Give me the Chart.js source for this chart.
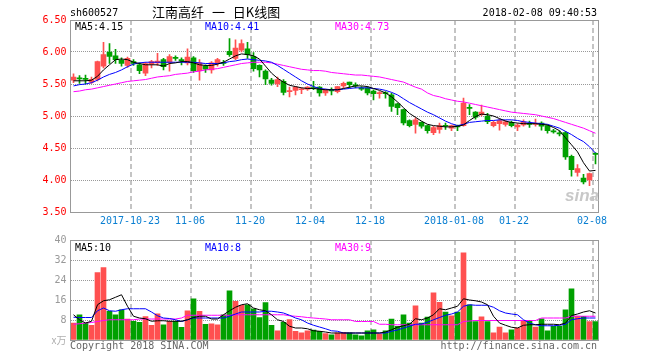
<!DOCTYPE html>
<html>
<head>
<meta charset="utf-8">
<script src="https://cdn.jsdelivr.net/npm/chart.js@4.4.0/dist/chart.umd.min.js"></script>
<style>
  body { margin: 0; background: #fff; }
  #wrap { position: relative; width: 660px; height: 360px; overflow: hidden; }
  #kChart { position: absolute; left: 0; top: 0; }
  #volChart { position: absolute; left: 0; top: 225px; }
  .t { position: absolute; white-space: nowrap; font: 10px "DejaVu Sans Mono", monospace; line-height: 12px; }
  #title { font: 13px "Noto Sans CJK SC", sans-serif; line-height: 14px; word-spacing: 5px; }
  #logo { font: italic bold 17px "Liberation Sans", sans-serif; color: #c8c8c8; }
</style>
</head>
<body>
<div id="wrap">
  <canvas id="kChart" width="660" height="230"></canvas>
  <canvas id="volChart" width="660" height="135"></canvas>
  <span class="t" style="left:70px;top:7px;color:#000">sh600527</span>
  <span class="t" id="title" style="left:152px;top:5px;color:#000">江南高纤 一 日K线图</span>
  <span class="t" style="right:63px;top:7px;color:#000">2018-02-08 09:40:53</span>
  <span class="t" style="left:75px;top:21px;color:#000">MA5:4.15</span>
  <span class="t" style="left:205px;top:21px;color:#0000ff">MA10:4.41</span>
  <span class="t" style="left:335px;top:21px;color:#ff00ff">MA30:4.73</span>
  <span class="t" id="logo" style="left:565px;top:186px">sina</span>
  <span class="t" style="left:75px;top:242px;color:#000">MA5:10</span>
  <span class="t" style="left:205px;top:242px;color:#0000ff">MA10:8</span>
  <span class="t" style="left:335px;top:242px;color:#ff00ff">MA30:9</span>
  <span class="t" style="left:70px;top:340px;color:#666">Copyright 2018 SINA.COM</span>
  <span class="t" style="right:63px;top:340px;color:#666">http://finance.sina.com.cn</span>
</div>
<script>
const dates = [
  '2017-10-09','2017-10-10','2017-10-11','2017-10-12','2017-10-13','2017-10-16','2017-10-17','2017-10-18','2017-10-19','2017-10-20',
  '2017-10-23','2017-10-24','2017-10-25','2017-10-26','2017-10-27','2017-10-30','2017-10-31','2017-11-01','2017-11-02','2017-11-03',
  '2017-11-06','2017-11-07','2017-11-08','2017-11-09','2017-11-10','2017-11-13','2017-11-14','2017-11-15','2017-11-16','2017-11-17',
  '2017-11-20','2017-11-21','2017-11-22','2017-11-23','2017-11-24','2017-11-27','2017-11-28','2017-11-29','2017-11-30','2017-12-01',
  '2017-12-04','2017-12-05','2017-12-06','2017-12-07','2017-12-08','2017-12-11','2017-12-12','2017-12-13','2017-12-14','2017-12-15',
  '2017-12-18','2017-12-19','2017-12-20','2017-12-21','2017-12-22','2017-12-25','2017-12-26','2017-12-27','2017-12-28','2017-12-29',
  '2018-01-02','2018-01-03','2018-01-04','2018-01-05','2018-01-08','2018-01-09','2018-01-10','2018-01-11','2018-01-12','2018-01-15',
  '2018-01-16','2018-01-17','2018-01-18','2018-01-19','2018-01-22','2018-01-23','2018-01-24','2018-01-25','2018-01-26','2018-01-29',
  '2018-01-30','2018-01-31','2018-02-01','2018-02-02','2018-02-05','2018-02-06','2018-02-07','2018-02-08'
];

const tickLabels = {
  '2017-10-23': '2017-10-23', '2017-11-06': '11-06', '2017-11-20': '11-20', '2017-12-04': '12-04',
  '2017-12-18': '12-18', '2018-01-08': '2018-01-08', '2018-01-22': '01-22', '2018-02-08': '02-08'
};

const open = [
  5.56,5.59,5.59,5.53,5.57,5.78,6.00,5.94,5.87,5.79,
  5.85,5.80,5.67,5.81,5.83,5.88,5.84,5.91,5.88,5.83,
  5.91,5.71,5.78,5.72,5.83,5.84,6.01,5.90,6.03,6.05,
  5.93,5.79,5.70,5.56,5.50,5.54,5.38,5.40,5.41,5.42,
  5.44,5.45,5.36,5.41,5.38,5.47,5.53,5.48,5.44,5.44,
  5.39,5.35,5.36,5.33,5.19,5.10,4.93,4.87,4.90,4.85,
  4.74,4.79,4.85,4.81,4.84,4.85,5.13,5.06,5.02,5.00,
  4.85,4.88,4.87,4.90,4.83,4.86,4.88,4.87,4.89,4.85,
  4.77,4.73,4.74,4.37,4.12,4.03,4.00,4.41
];
const high = [
  5.66,5.63,5.64,5.61,5.86,6.15,6.13,6.04,5.91,5.92,
  5.88,5.83,5.84,5.87,5.98,5.90,5.96,5.94,5.91,6.05,
  5.93,5.88,5.80,5.85,5.90,5.87,6.21,6.19,6.19,6.15,
  5.99,5.80,5.72,5.59,5.61,5.57,5.45,5.46,5.44,5.46,
  5.54,5.46,5.42,5.44,5.46,5.53,5.53,5.52,5.46,5.46,
  5.41,5.38,5.38,5.36,5.20,5.11,4.94,4.97,4.91,4.86,
  4.84,4.89,4.89,4.86,4.86,5.28,5.18,5.07,5.17,5.04,
  4.92,4.95,4.93,4.92,4.88,4.94,4.92,4.95,4.91,4.86,
  4.79,4.77,4.76,4.39,4.24,4.09,4.11,4.43
];
const low = [
  5.52,5.51,5.50,5.51,5.55,5.75,5.82,5.82,5.78,5.76,
  5.79,5.66,5.63,5.75,5.79,5.72,5.70,5.87,5.80,5.80,
  5.68,5.56,5.68,5.67,5.78,5.79,5.93,5.88,6.00,5.90,
  5.70,5.61,5.49,5.48,5.46,5.33,5.30,5.33,5.35,5.40,
  5.41,5.31,5.32,5.33,5.36,5.44,5.44,5.44,5.40,5.33,
  5.25,5.28,5.28,5.07,5.02,4.86,4.83,4.73,4.81,4.73,
  4.71,4.73,4.79,4.77,4.77,4.84,5.02,4.95,5.00,4.88,
  4.83,4.78,4.84,4.83,4.77,4.84,4.82,4.84,4.78,4.73,
  4.73,4.69,4.32,4.06,4.06,3.94,3.91,4.25
];
const close = [
  5.61,5.58,5.57,5.57,5.85,5.96,5.93,5.88,5.82,5.90,
  5.82,5.71,5.82,5.85,5.86,5.77,5.93,5.90,5.86,5.92,
  5.71,5.83,5.73,5.83,5.88,5.82,5.96,6.06,6.13,5.96,
  5.74,5.72,5.58,5.51,5.57,5.37,5.39,5.45,5.42,5.45,
  5.43,5.36,5.41,5.39,5.46,5.51,5.49,5.47,5.42,5.36,
  5.35,5.36,5.35,5.15,5.13,4.89,4.85,4.94,4.84,4.77,
  4.82,4.85,4.84,4.85,4.83,5.20,5.12,4.98,5.06,4.91,
  4.90,4.93,4.91,4.85,4.86,4.91,4.87,4.88,4.84,4.77,
  4.75,4.72,4.36,4.16,4.18,3.97,4.10,4.40
];

const ma5 = [
  5.55,5.55,5.55,5.56,5.62,5.72,5.80,5.88,5.89,5.88,
  5.84,5.82,5.80,5.80,5.80,5.78,5.82,5.83,5.85,5.85,
  5.83,5.80,5.79,5.79,5.81,5.84,5.89,5.94,5.97,5.96,
  5.94,5.89,5.78,5.67,5.59,5.53,5.48,5.46,5.44,5.43,
  5.43,5.42,5.41,5.41,5.41,5.43,5.45,5.47,5.47,5.46,
  5.43,5.40,5.36,5.30,5.22,5.13,5.04,4.98,4.92,4.87,
  4.85,4.84,4.83,4.83,4.84,4.86,4.93,4.99,5.03,5.02,
  5.00,4.96,4.92,4.90,4.89,4.88,4.88,4.88,4.87,4.86,
  4.82,4.77,4.66,4.55,4.44,4.27,4.14,4.15
];
const ma10 = [
  5.47,5.49,5.50,5.52,5.56,5.61,5.65,5.68,5.72,5.77,
  5.81,5.83,5.84,5.84,5.84,5.84,5.84,5.84,5.84,5.84,
  5.84,5.83,5.82,5.82,5.82,5.83,5.85,5.86,5.88,5.89,
  5.88,5.87,5.86,5.84,5.79,5.73,5.67,5.61,5.55,5.50,
  5.46,5.43,5.42,5.41,5.41,5.42,5.43,5.44,5.44,5.44,
  5.43,5.42,5.40,5.37,5.33,5.27,5.21,5.16,5.11,5.06,
  5.02,4.97,4.92,4.88,4.85,4.87,4.90,4.91,4.92,4.93,
  4.93,4.94,4.94,4.94,4.93,4.91,4.90,4.89,4.88,4.87,
  4.84,4.81,4.76,4.71,4.65,4.60,4.52,4.42
];
const ma30 = [
  5.38,5.39,5.41,5.42,5.44,5.46,5.48,5.50,5.52,5.54,
  5.55,5.56,5.57,5.59,5.61,5.62,5.63,5.65,5.66,5.67,
  5.69,5.70,5.72,5.73,5.74,5.76,5.78,5.80,5.82,5.83,
  5.84,5.84,5.84,5.83,5.81,5.79,5.77,5.75,5.73,5.72,
  5.71,5.71,5.70,5.68,5.67,5.66,5.65,5.64,5.64,5.63,
  5.62,5.61,5.59,5.57,5.55,5.53,5.49,5.45,5.42,5.36,
  5.32,5.30,5.27,5.25,5.23,5.22,5.20,5.18,5.16,5.14,
  5.12,5.10,5.08,5.06,5.05,5.04,5.03,5.02,5.00,4.98,
  4.96,4.93,4.90,4.87,4.84,4.81,4.77,4.73
];

// 成交量，单位：万
const volume = [
  6.8,10.1,6.8,5.9,27.0,29.0,11.5,10.1,12.1,8.4,
  7.5,7.1,9.4,5.9,10.5,6.1,7.5,7.5,5.1,11.7,
  16.5,11.5,6.3,6.5,6.1,10.1,19.7,15.5,13.9,14.1,
  12.5,9.0,15.0,5.9,3.7,7.1,8.2,3.5,2.9,3.7,
  4.0,3.5,2.6,2.1,2.9,3.1,2.9,2.1,1.7,3.7,
  4.1,2.5,3.7,8.4,5.5,10.1,6.8,13.7,6.8,9.2,
  18.9,15.1,11.2,9.7,11.2,34.9,14.1,7.4,9.3,7.4,
  2.9,5.2,2.9,4.1,4.8,7.8,7.8,5.2,8.5,3.7,
  5.5,5.5,12.1,20.5,9.6,9.5,7.4,7.4
];
const volMa5 = [
  10.1,8.1,6.8,7.5,14.1,15.7,16.1,17.1,18.1,13.5,
  9.5,8.8,8.5,7.5,7.7,7.7,7.5,7.5,7.5,8.1,
  9.0,9.5,9.5,8.4,8.4,10.1,11.7,13.1,14.1,14.5,
  12.8,12.1,11.7,10.1,8.1,7.4,5.5,4.8,4.8,4.5,
  3.7,3.5,3.2,2.8,2.8,2.8,2.8,2.8,2.8,2.8,
  2.8,2.8,3.2,4.1,5.1,5.7,6.3,8.5,8.1,8.8,
  10.1,12.5,12.1,12.8,13.5,16.5,16.0,15.7,15.2,14.1,
  9.5,6.8,5.9,5.1,4.8,5.9,6.1,6.1,6.3,6.3,
  6.3,6.1,6.8,9.8,10.4,11.2,11.7,10.8
];
const volMa10 = [
  9.1,9.0,9.0,9.0,11.7,12.8,11.7,11.5,12.1,12.5,
  12.5,12.5,12.5,11.2,9.7,8.8,8.6,8.1,7.4,8.1,
  8.8,8.8,8.8,8.8,8.8,8.8,9.5,10.4,11.2,11.2,
  11.2,11.2,11.5,11.5,11.2,10.8,9.9,8.8,8.1,6.8,
  5.9,5.2,4.5,3.7,3.5,2.8,2.8,2.8,2.8,2.8,
  2.8,2.8,2.8,3.5,4.0,4.8,5.5,6.3,6.4,7.1,
  8.1,9.0,9.9,10.4,11.2,13.5,14.1,13.9,13.9,13.9,
  13.1,11.7,10.8,10.4,10.1,8.1,6.8,6.1,5.7,5.7,
  5.7,5.9,6.3,8.1,8.5,8.8,8.8,8.8
];
const volMa30 = [
  6.3,6.5,6.8,7.0,7.4,7.8,8.1,8.1,8.1,8.1,
  8.1,8.4,8.4,8.4,8.4,8.4,8.4,8.4,8.8,9.9,
  9.9,9.9,9.9,9.9,9.9,9.9,9.9,10.1,10.1,10.1,
  10.1,10.1,10.1,10.1,10.1,10.1,9.7,9.5,9.3,9.0,
  8.8,8.6,8.4,8.1,8.1,8.1,8.1,7.4,7.4,7.4,
  7.4,6.3,6.3,6.1,6.1,6.1,6.1,6.1,6.1,6.1,
  6.1,6.1,6.1,6.1,6.1,7.4,7.6,7.8,7.8,7.8,
  7.8,7.8,7.8,7.8,7.8,7.8,7.8,7.8,8.8,8.8,
  8.8,8.8,8.8,9.5,9.5,9.5,9.5,9.5
];

const RED = '#ff5050';
const GREEN = '#00a000';
const MONO = '"DejaVu Sans Mono", monospace';

Chart.defaults.font.family = MONO;
Chart.defaults.font.size = 10;

const candleColors = dates.map((d, i) => close[i] >= open[i] ? RED : GREEN);

const frame = {
  id: 'frame',
  afterDraw(chart) {
    const { ctx, chartArea: a } = chart;
    ctx.save();
    ctx.strokeStyle = '#999';
    ctx.lineWidth = 1;
    ctx.strokeRect(Math.floor(a.left) + 0.5, Math.floor(a.top) + 0.5,
      Math.floor(a.right) - Math.floor(a.left), Math.floor(a.bottom) - Math.floor(a.top));
    ctx.restore();
  }
};

function maLine(data, color) {
  return { type: 'line', data: data, borderColor: color, borderWidth: 1, pointRadius: 0, tension: 0, order: 0 };
}

function xScale(showLabels) {
  return {
    offset: true,
    grid: {
      offset: true,
      drawTicks: false,
      lineWidth: 2,
      color: ctx => tickLabels[dates[ctx.index]] ? '#c4c4c4' : 'rgba(0,0,0,0)'
    },
    border: { display: false, dash: [5, 3] },
    ticks: {
      display: showLabels,
      autoSkip: false,
      maxRotation: 0,
      minRotation: 0,
      padding: 3,
      labelOffset: -3.5,
      color: '#0a7fd2',
      callback: (v, i) => tickLabels[dates[i]] || ''
    },
    afterFit: s => { s.height = showLabels ? 18 : 20; }
  };
}

new Chart(document.getElementById('kChart'), {
  type: 'bar',
  data: {
    labels: dates,
    datasets: [
      maLine(ma5, '#000000'),
      maLine(ma10, '#0000ff'),
      maLine(ma30, '#ff00ff'),
      {
        data: dates.map((d, i) => [open[i], close[i]]),
        backgroundColor: candleColors,
        barThickness: 5,
        minBarLength: 1,
        grouped: false,
        order: 1
      },
      {
        data: dates.map((d, i) => [low[i], high[i]]),
        backgroundColor: candleColors,
        barThickness: 1,
        grouped: false,
        order: 2
      }
    ]
  },
  options: {
    responsive: false,
    animation: false,
    events: [],
    layout: { padding: { left: 0, right: 61.5, top: 20, bottom: 0 } },
    plugins: { legend: { display: false }, tooltip: { enabled: false } },
    scales: {
      x: xScale(true),
      y: {
        min: 3.5,
        max: 6.5,
        grid: { color: '#999', drawTicks: false },
        border: { display: false, dash: [1, 1] },
        ticks: { stepSize: 0.5, padding: 4, color: '#ff0000', callback: v => v.toFixed(2) },
        afterFit: s => { s.width = 70.5; }
      }
    }
  },
  plugins: [frame]
});

new Chart(document.getElementById('volChart'), {
  type: 'bar',
  data: {
    labels: dates,
    datasets: [
      maLine(volMa5, '#000000'),
      maLine(volMa10, '#0000ff'),
      maLine(volMa30, '#ff00ff'),
      {
        data: volume,
        backgroundColor: candleColors,
        barThickness: 5,
        grouped: false,
        order: 1
      }
    ]
  },
  options: {
    responsive: false,
    animation: false,
    events: [],
    layout: { padding: { left: 0, right: 61.5, top: 15, bottom: 0 } },
    plugins: { legend: { display: false }, tooltip: { enabled: false } },
    scales: {
      x: xScale(false),
      y: {
        min: 0,
        max: 40,
        grid: { color: '#999', drawTicks: false },
        border: { display: false, dash: [1, 1] },
        ticks: {
          stepSize: 8,
          padding: 4,
          color: ctx => ctx.tick && ctx.tick.value === 0 ? '#b0b0b0' : '#999',
          font: ctx => ctx.tick && ctx.tick.value === 0
            ? { family: '"Noto Sans CJK SC", sans-serif', size: 10 }
            : { family: MONO, size: 10 },
          callback: v => v === 0 ? 'x万' : v
        },
        afterFit: s => { s.width = 70.5; }
      }
    }
  },
  plugins: [frame]
});
</script>
</body>
</html>
